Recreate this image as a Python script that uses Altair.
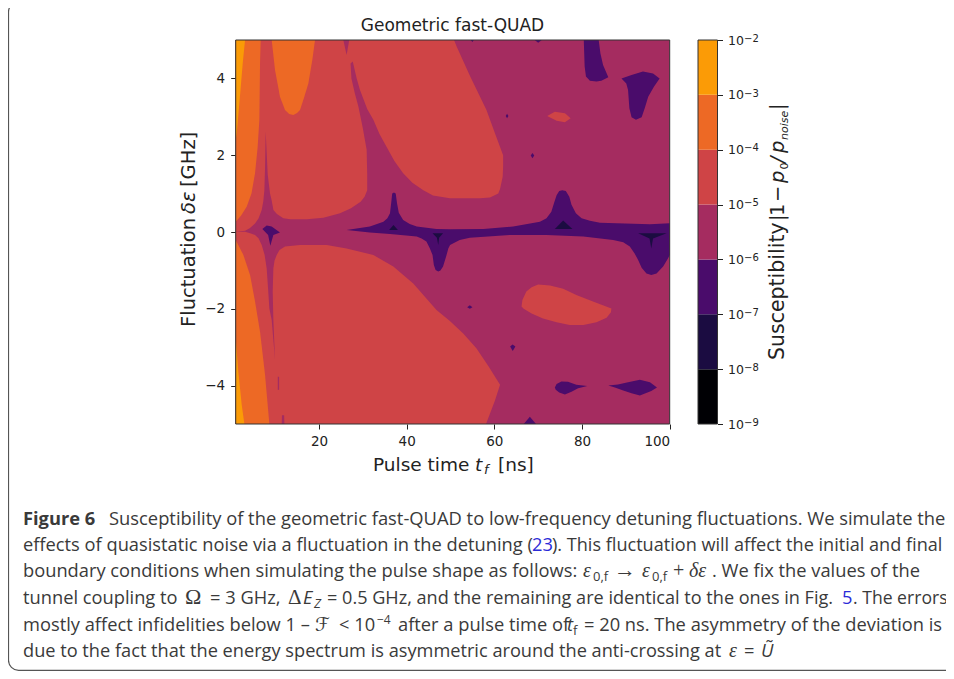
import altair as alt
import pandas as pd

C_BLACK, C_DARK, C_PURPLE, C_MAGENTA, C_RED, C_ORANGE, C_YELLOW = (
    "#000004", "#1b0c41", "#4a0c6b", "#a52c60", "#cf4446", "#ed6925", "#fb9b06")

band_lo = [1e-9, 1e-8, 1e-7, 1e-6, 1e-5, 1e-4, 1e-3]
band_hi = [1e-8, 1e-7, 1e-6, 1e-5, 1e-4, 1e-3, 1e-2]
band_col = [C_BLACK, C_DARK, C_PURPLE, C_MAGENTA, C_RED, C_ORANGE, C_YELLOW]

background = [(1, -5), (100, -5), (100, 5), (1, 5)]
red_up = [(1, 5), (50.8, 5), (51.4, 4.83), (54.5, 4.05), (58.2, 3.18), (60.2, 2.55), (62, 2.0), (62, 1.7), (61.9, 1.44),
          (61.3, 1.12), (60.9, 1.0), (59, .9), (56.7, .88), (49.86, .88), (46, .95), (43.8, 1.09), (41.3, 1.28), (39.2, 1.53),
          (37.2, 1.85), (35.4, 2.22), (33.8, 2.55), (32.4, 2.92), (31, 3.2), (29.35, 3.7), (28.6, 4.0), (27.7, 4.44), (27.2, 4.39),
          (27.4, 4.0), (28.2, 3.6), (29, 3.26), (30, 2.7), (30.87, 2.14), (31, 1.5), (31, 1.09), (30.4, .92), (29.5, .79),
          (27.3, .62), (24.8, .49), (21, .37), (17.2, .33), (13.5, .33), (11.87, .36), (10.4, .47), (9.6, .57), (9.2, .83),
          (8.83, 1.0), (8.3, 1.5), (7.84, 2.61), (7.7, 1.7), (7.54, 1.09), (7.3, .8), (6.93, .57), (6.2, .35), (5.41, .22),
          (4.2, .1), (3.13, .03), (1, 0)]
red_low = [(1, 0), (3.13, .008), (4.3, -.03), (5.41, -.08), (6.2, -.16), (6.93, -.34), (7.6, -.6), (8.07, -.95), (8.4, -1.5), (8.68, -1.99),
           (9.21, -2.29), (9.97, -3.33), (9.59, -2.29), (9.44, -1.55), (9.59, -.95), (9.85, -.75), (10.35, -.6), (11, -.47), (12.25, -.38),
           (15.67, -.34), (21.75, -.34), (26.3, -.43), (32.4, -.6), (36.95, -.9), (41.5, -1.34), (46.8, -2.03), (49.86, -2.32),
           (52.9, -2.64), (55.9, -3.03), (58.7, -3.5), (61.3, -3.98), (60.1, -4.4), (58.1, -5), (1, -5)]
orange_strip = [(1, 5), (6.7, 5), (6.55, 4.39), (6.4, 2.92), (6, 2.2), (5.41, 1.53), (4.6, 1.0), (3.5, .66), (2.2, .42), (1, .27)]
orange_lobe = [(9.21, 5), (9.97, 4.22), (11.1, 3.52), (12.25, 3.18), (13.2, 3.07), (14.15, 3.05), (15, 3.1), (15.67, 3.18),
               (16.6, 3.5), (17.57, 3.87), (18.5, 4.5), (19.09, 5)]
yellow_up = [(1, 5), (3.13, 5), (2.6, 4.39), (1.84, 3.35), (1.23, 2.57), (1, 2.4)]
orange_low = [(1, -.21), (2.75, -.6), (4.27, -1.12), (5.41, -1.81), (6.55, -2.6), (7.69, -3.72), (8.68, -5), (1, -5)]
yellow_low = [(1, -2.77), (1.6, -3.64), (2.37, -4.5), (2.98, -5), (1, -5)]
spike_top = [(25.55, 5), (26.9, 5), (26.3, 4.61)]
slit_a = [(10.6, -3.77), (10.9, -3.77), (10.9, -4.11), (10.6, -4.11)]
slit_b = [(11.55, -4.77), (12.05, -4.77), (12.1, -5), (11.5, -5)]
red_blob_top = [(72.05, 3.02), (73.8, 3.13), (76.1, 3.09), (77.4, 2.96), (76.1, 2.86), (74.2, 2.9)]
red_blob_low = [(66.2, -1.94), (66.4, -1.77), (67.3, -1.55), (68.5, -1.44), (70, -1.37), (72.7, -1.39), (75.7, -1.48), (78.7, -1.64),
                (82.5, -1.81), (86.7, -1.99), (86.6, -2.09), (85.6, -2.23), (83.3, -2.35), (80.3, -2.42), (77.2, -2.42),
                (74.2, -2.35), (71.1, -2.25), (68.5, -2.12), (66.7, -2.0)]
star = [(7.08, .08), (8.07, .17), (9.2, .14), (11.1, -.01), (9.59, -.08), (8.9, -.36), (8.4, -.08)]
central_band = [(26.3, .05), (31.6, .14), (34.7, .27), (35.6, .36), (36.2, .49), (36.5, .79), (36.7, 1.0), (37.1, 1.03), (37.5, 1.0),
                (37.8, .75), (38.2, .5), (39.2, .31), (40.7, .21), (42.3, .14),
                (46.8, .08), (49.9, .07), (57.5, .08), (64.3, .14), (70.4, .27), (71.9, .36), (73, .53), (73.6, .75), (74.2, .96),
                (74.8, 1.07), (75.5, 1.09), (76.3, 1.07), (77.1, .92), (77.6, .71), (78.6, .49), (79.9, .36), (81.8, .29),
                (84.1, .24), (95.5, .2), (100, .23), (100, -.6), (99.6, -.69), (98.5, -.9), (97, -1.08), (95.8, -1.12), (94.7, -1.08),
                (93.6, -.93), (92.8, -.73), (92, -.56), (90.9, -.38), (89.4, -.27), (87.1, -.21), (80.3, -.12), (71.9, -.08),
                (63.5, -.08), (54.4, -.15), (52.1, -.21), (49.9, -.34), (49.5, -.43), (49, -.64), (48.3, -.9), (47.7, -1.0),
                (47.2, -1.03), (46.6, -.99), (46.2, -.86), (45.9, -.6), (45.3, -.43), (44.5, -.25), (43.4, -.17), (42.3, -.12),
                (36.2, -.05), (31.6, -.01)]
blob_a = [(80.4, 5), (83.8, 5), (84.2, 4.65), (84.8, 4.35), (86, 4.03), (84.4, 3.94), (83.3, 3.92), (81.8, 3.94), (80.9, 4.05), (80.6, 4.31)]
blob_b = [(89, 4.0), (91.3, 4.09), (93.9, 4.18), (96.2, 4.13), (97.7, 4.0), (96.4, 3.78), (95.1, 3.52), (94.3, 3.22), (93.6, 2.99),
          (92.3, 2.92), (91.3, 2.99), (90.8, 3.22), (90.5, 3.7), (90.1, 3.87)]
top_nick_a = [(69.2, 5), (70.8, 5), (70, 4.93)]
top_nick_b = [(54.6, 5), (55.3, 5), (55, 4.95)]
dot_a = [(62.6, 3.02), (62.9, 3.08), (63.2, 3.02), (62.9, 2.96)]
dot_b = [(68.3, 1.99), (68.7, 2.06), (69.1, 1.99), (68.7, 1.92)]
dot_c = [(53.8, -1.96), (54.4, -1.91), (55, -1.96), (54.4, -2.0)]
dot_d = [(63.6, -2.98), (64.15, -2.93), (64.8, -2.98), (64.2, -3.1)]
blob_c = [(73.8, -4.05), (74.2, -3.96), (75.3, -3.89), (76.8, -3.9), (78.7, -3.98), (81.2, -4.01), (79.1, -4.07), (77.6, -4.16),
          (76.1, -4.23), (74.8, -4.18), (74, -4.11)]
blob_d = [(86, -4.0), (88.2, -3.97), (90.5, -3.91), (93.2, -3.85), (95.5, -3.91), (97.1, -4.05), (95.8, -4.14), (93.2, -4.26),
          (91.3, -4.2), (89.4, -4.13), (87.5, -4.05)]
tri_bottom = [(66.7, -5), (68.1, -4.81), (69.5, -5)]
dark_a = [(36, .05), (37, .18), (38, .05)]
dark_b = [(45.9, -.03), (48.3, -.03), (47.4, -.15), (47.2, -.34), (46.9, -.15)]
dark_c = [(73.8, .08), (75.7, .3), (77.8, .08)]
dark_d = [(92.8, -.035), (99.3, -.035), (96.2, -.17), (95.8, -.43), (95.4, -.17)]

polygons = [
    (background, C_MAGENTA), (red_up, C_RED), (red_low, C_RED),
    (orange_strip, C_ORANGE), (orange_lobe, C_ORANGE), (orange_low, C_ORANGE),
    (yellow_up, C_YELLOW), (yellow_low, C_YELLOW),
    (spike_top, C_MAGENTA), (slit_a, C_MAGENTA), (slit_b, C_MAGENTA),
    (red_blob_top, C_RED), (red_blob_low, C_RED),
    (star, C_PURPLE), (central_band, C_PURPLE), (blob_a, C_PURPLE), (blob_b, C_PURPLE),
    (top_nick_a, C_PURPLE), (top_nick_b, C_PURPLE), (dot_a, C_PURPLE), (dot_b, C_PURPLE),
    (dot_c, C_PURPLE), (dot_d, C_PURPLE), (blob_c, C_PURPLE), (blob_d, C_PURPLE), (tri_bottom, C_PURPLE),
    (dark_a, C_DARK), (dark_b, C_DARK), (dark_c, C_DARK), (dark_d, C_DARK),
]

rows = []
for pid, (pts, col) in enumerate(polygons):
    for seq, (x, y) in enumerate(pts):
        rows.append({"t": x, "d": y, "poly": pid, "seq": seq, "col": col})
poly_df = pd.DataFrame(rows)

W, H = 938, 663
OX, OY = 8, 8  # page margin
INK = "#222222"

contours = alt.Chart(poly_df).mark_line(strokeWidth=0, clip=False).encode(
    x=alt.X("t:Q", scale=alt.Scale(domain=[1, 100], range=[235.7 - OX, 669.7 - OX], nice=False, zero=False),
            axis=alt.Axis(values=[20, 40, 60, 80, 100], title=None, grid=False, domain=False, offset=416 - H,
                          labelFont="DejaVu Sans", labelFontSize=13.5, labelColor=INK, tickColor=INK, tickSize=5, labelPadding=5)),
    y=alt.Y("d:Q", scale=alt.Scale(domain=[-5, 5], range=[424 - OY, 40 - OY], nice=False, zero=False),
            axis=alt.Axis(values=[-4, -2, 0, 2, 4], title=None, grid=False, domain=False, offset=OX - 235.7,
                          labelFont="DejaVu Sans", labelFontSize=13.5, labelColor=INK, tickColor=INK, tickSize=5, labelPadding=6)),
    fill=alt.Fill("col:N", scale=None),
    detail="poly:N",
    order="seq:Q",
)

one = pd.DataFrame({"a": [0]})

def box(x0, x1, y0, y1, **kw):
    return alt.Chart(one).mark_rect(**kw).encode(
        x=alt.value(x0 - OX), x2=alt.value(x1 - OX), y=alt.value(y0 - OY), y2=alt.value(y1 - OY))

frame = box(235.7, 669.7, 40, 424, fillOpacity=0, stroke="#333", strokeWidth=1)
outer = box(8.5, 975, 2, 670.3, fillOpacity=0, stroke="#555", strokeWidth=1.2, cornerRadius=10)

exponents = ["−2", "−3", "−4", "−5", "−6", "−7", "−8", "−9"]
cb_df = pd.DataFrame({"lo": band_lo, "hi": band_hi, "col": band_col})
cbar = alt.Chart(cb_df).mark_rect().encode(
    x=alt.value(698 - OX), x2=alt.value(717.5 - OX),
    y=alt.Y("lo:Q", scale=alt.Scale(type="log", domain=[1e-9, 1e-2], range=[424 - OY, 40 - OY], nice=False),
            axis=alt.Axis(orient="right", values=[1e-9, 1e-8, 1e-7, 1e-6, 1e-5, 1e-4, 1e-3, 1e-2], labelExpr="'10'",
                          title=None, grid=False, domain=False, offset=717.5 - OX - W,
                          labelFont="DejaVu Sans", labelFontSize=12.5, labelColor=INK, tickColor=INK, tickSize=5, labelPadding=5)),
    y2="hi:Q",
    fill=alt.Fill("col:N", scale=None),
)
cbar_frame = box(698, 717.5, 40, 424, fillOpacity=0, stroke="#333", strokeWidth=1)

SANS = "DejaVu Sans"
CAP = "Open Sans"
SER = "Liberation Serif"
TXT = "#3a3a3a"
BLUE = "#2b2bd8"
CS = 18.3
N, I, B = "normal", "italic", "bold"
# text, x, y(baseline), size, font, style, weight, color, angle, align
fragments = [
    ("Geometric fast-QUAD", 452.5, 31, 17, SANS, N, N, INK, 0, "center"),
    ("Pulse time", 373, 470.7, 18.5, SANS, N, N, INK, 0, "left"),
    ("t", 475, 470.7, 18.5, SANS, I, N, INK, 0, "left"),
    ("f", 484, 474, 13, SANS, I, N, INK, 0, "left"),
    ("[ns]", 498, 470.7, 18.5, SANS, N, N, INK, 0, "left"),
    ("Fluctuation", 195, 327, 19.5, SANS, N, N, INK, 270, "left"),
    ("δε", 195, 214, 19.5, SANS, I, N, INK, 270, "left"),
    ("[GHz]", 195, 187, 19.5, SANS, N, N, INK, 270, "left"),
    ("Susceptibility", 784, 360, 20.5, SANS, N, N, INK, 270, "left"),
    ("|", 784, 221, 19.5, SANS, N, N, INK, 270, "left"),
    ("1", 784, 216, 19.5, SANS, N, N, INK, 270, "left"),
    ("−", 784, 202, 19.5, SANS, N, N, INK, 270, "left"),
    ("p", 784, 183, 19.5, SANS, I, N, INK, 270, "left"),
    ("0", 788, 169.5, 11, SANS, N, N, INK, 270, "left"),
    ("/", 784, 163, 19.5, SANS, I, N, INK, 270, "left"),
    ("p", 784, 153, 19.5, SANS, I, N, INK, 270, "left"),
    ("noise", 788, 140, 11, SANS, I, N, INK, 270, "left"),
    ("|", 784, 110, 19.5, SANS, N, N, INK, 270, "left"),
    ("Figure 6", 23, 525, CS, CAP, N, B, TXT, 0, "left"),
    ("Susceptibility of the geometric fast-QUAD to low-frequency detuning fluctuations. We simulate the", 109, 525, 18.35, CAP, N, N, TXT, 0, "left"),
    ("effects of quasistatic noise via a fluctuation in the detuning (", 23, 551, CS, CAP, N, N, TXT, 0, "left"),
    ("23", 532, 551, CS, CAP, N, N, BLUE, 0, "left"),
    ("). This fluctuation will affect the initial and final", 552, 551, 18.1, CAP, N, N, TXT, 0, "left"),
    ("boundary conditions when simulating the pulse shape as follows:", 23, 577, CS, CAP, N, N, TXT, 0, "left"),
    ("ε", 583, 577, 20, SER, I, N, TXT, 0, "left"),
    ("0,f", 593, 581, 13, CAP, N, N, TXT, 0, "left"),
    ("→", 614, 577, 22, SER, N, N, TXT, 0, "left"),
    ("ε", 642, 577, 20, SER, I, N, TXT, 0, "left"),
    ("0,f", 652, 581, 13, CAP, N, N, TXT, 0, "left"),
    ("+", 673, 577, 20, SER, N, N, TXT, 0, "left"),
    ("δε", 689, 577, 20, SER, I, N, TXT, 0, "left"),
    (". We fix the values of the", 712, 577, CS, CAP, N, N, TXT, 0, "left"),
    ("tunnel coupling to", 23, 604, CS, CAP, N, N, TXT, 0, "left"),
    ("Ω", 185, 604, 22, SER, N, N, TXT, 0, "left"),
    ("= 3 GHz,", 210, 604, CS, CAP, N, N, TXT, 0, "left"),
    ("Δ", 288, 604, 21, SER, N, N, TXT, 0, "left"),
    ("E", 303, 604, CS, CAP, I, N, TXT, 0, "left"),
    ("Z", 314, 608, 13, CAP, I, N, TXT, 0, "left"),
    ("= 0.5 GHz, and the remaining are identical to the ones in Fig.", 327, 604, 18.1, CAP, N, N, TXT, 0, "left"),
    ("5", 842, 604, CS, CAP, N, N, BLUE, 0, "left"),
    (". The errors", 853, 604, 17.6, CAP, N, N, TXT, 0, "left"),
    ("mostly affect infidelities below 1 –", 23, 631, CS, CAP, N, N, TXT, 0, "left"),
    ("ℱ", 315, 631, 19, "DejaVu Sans", I, N, TXT, 0, "left"),
    ("< 10", 339, 631, CS, CAP, N, N, TXT, 0, "left"),
    ("−4", 377, 624, 12, CAP, N, N, TXT, 0, "left"),
    ("after a pulse time of", 398, 631, CS, CAP, N, N, TXT, 0, "left"),
    ("t", 567, 631, CS, CAP, I, N, TXT, 0, "left"),
    ("f", 573, 635, 13, CAP, N, N, TXT, 0, "left"),
    ("= 20 ns. The asymmetry of the deviation is", 584, 631, CS, CAP, N, N, TXT, 0, "left"),
    ("due to the fact that the energy spectrum is asymmetric around the anti-crossing at", 23, 657, 18.2, CAP, N, N, TXT, 0, "left"),
    ("ε", 729, 657, 20, SER, I, N, TXT, 0, "left"),
    ("=", 744, 657, CS, CAP, N, N, TXT, 0, "left"),
    ("Ũ", 761, 657, CS, CAP, I, N, TXT, 0, "left"),
]
for i, e in enumerate(exponents):
    fragments.append((e, 744, 41.7 + i * 384 / 7, 10, SANS, N, N, INK, 0, "left"))

texts = []
for (s, x, y, size, font, style, weight, col, ang, al) in fragments:
    texts.append(alt.Chart(one).mark_text(font=font, fontSize=size, fontStyle=style, fontWeight=weight, color=col,
                                           angle=ang, align=al, baseline="alphabetic").encode(
        x=alt.value(x - OX), y=alt.value(y - OY), text=alt.value(s)))

chart = alt.layer(contours, frame, cbar, cbar_frame, outer, *texts).resolve_scale(
    y="independent", x="independent", fill="independent"
).resolve_axis(y="independent", x="independent").properties(
    width=W, height=H, padding=0, autosize=alt.AutoSizeParams(type="none"),
).configure_view(stroke=None)

chart.save("out.html", embed_options={"renderer": "svg", "actions": False})
